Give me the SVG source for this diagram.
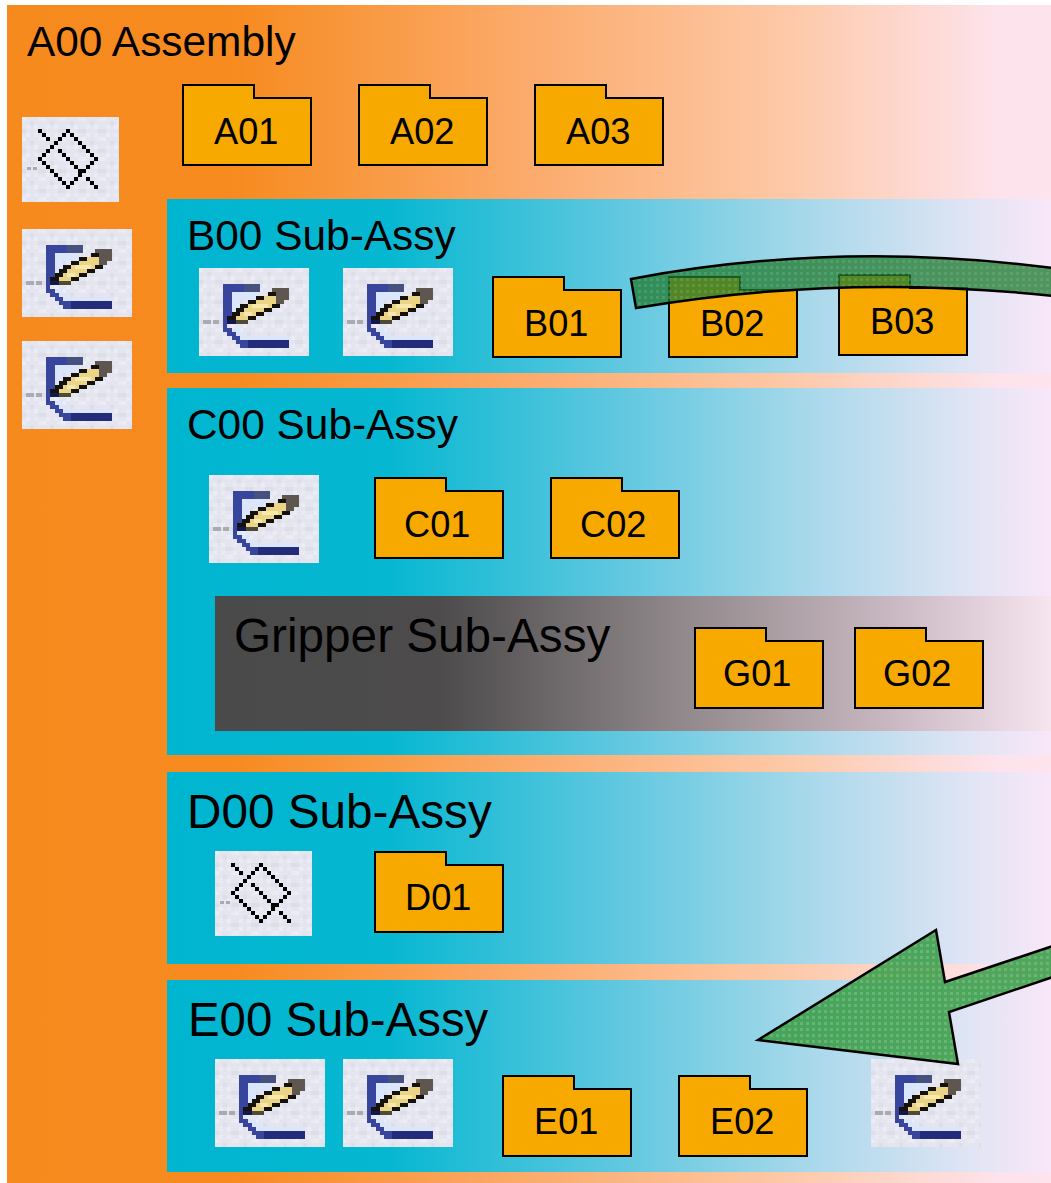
<svg xmlns="http://www.w3.org/2000/svg" width="1051" height="1183" viewBox="0 0 1051 1183">
<style>
text{font-family:"Liberation Sans",Arial,sans-serif;fill:#000}
.t42{font-size:42.4px}.t48{font-size:47.7px}.t47{font-size:47.4px}.f{font-size:36.2px}
.fo{fill:#f8a900;stroke:#000;stroke-width:2}
.arc{fill:url(#texArc);stroke:#000;stroke-width:2.5}
.arrow{fill:url(#tex);stroke:#000;stroke-width:2.5}
.px{shape-rendering:crispEdges}
</style>
<defs>
<linearGradient id="gO" gradientUnits="userSpaceOnUse" x1="7" y1="0" x2="1051" y2="0">
<stop offset="0" stop-color="#f78a1d"/><stop offset=".22" stop-color="#f78b20"/><stop offset=".5" stop-color="#fbab6c"/><stop offset=".75" stop-color="#fdc9a8"/><stop offset=".95" stop-color="#fde3ec"/><stop offset="1" stop-color="#fde3ec"/>
</linearGradient>
<linearGradient id="gB" gradientUnits="userSpaceOnUse" x1="167" y1="0" x2="1051" y2="0">
<stop offset="0" stop-color="#00b5d0"/><stop offset=".25" stop-color="#06b7d1"/><stop offset=".5" stop-color="#5cc7df"/><stop offset=".72" stop-color="#a6d8ea"/><stop offset=".9" stop-color="#dee4f4"/><stop offset="1" stop-color="#f8e7f8"/>
</linearGradient>
<linearGradient id="gG" gradientUnits="userSpaceOnUse" x1="215" y1="0" x2="1051" y2="0">
<stop offset="0" stop-color="#4a4a4a"/><stop offset=".27" stop-color="#4d4b4c"/><stop offset=".55" stop-color="#8f8789"/><stop offset=".8" stop-color="#c7b6bf"/><stop offset="1" stop-color="#f6e4ef"/>
</linearGradient>
<pattern id="tex" patternUnits="userSpaceOnUse" width="6" height="6">
<rect width="6" height="6" fill="#3a9d48" fill-opacity=".88"/>
<rect x="2" y="2" width="3" height="3" fill="#7cbf86" fill-opacity=".6"/>
</pattern>
<pattern id="texArc" patternUnits="userSpaceOnUse" width="6" height="6">
<rect width="6" height="6" fill="#1e7a30" fill-opacity=".76"/>
<rect x="2" y="2" width="3" height="3" fill="#7cbf86" fill-opacity=".28"/>
</pattern>
<pattern id="noise" patternUnits="userSpaceOnUse" width="20" height="20">
<rect width="20" height="20" fill="#e4e5ef"/>
<path class="px" d="M0 0h4v4h-4zM12 8h4v4h-4zM4 16h4v4h-4z" fill="#ececf8"/>
<path class="px" d="M8 4h4v4h-4zM16 12h4v4h-4zM0 12h4v4h-4z" fill="#dddfe8"/>
<path class="px" d="M4 8h4v4h-4zM16 0h4v4h-4zM12 16h4v4h-4z" fill="#eaeaf2"/>
</pattern>
<path id="folder" class="fo" d="M0 0H71V13H128V80H0Z"/>
<g id="iconPencil">
<rect width="110" height="88" fill="url(#noise)"/>
<g class="px" transform="scale(4.07 4)">
<path d="M8 6H14V8H10V11H8ZM8 15H10V16H11V17H22V18H10V17H9V16H8Z" fill="#dbe6fc"/>
<path d="M1 13h2v1h-2zM3.500 13h1.500v1h-1.500z" fill="#a9abb3"/>
<path d="M6 4H11V6H8V13H9V14H7V15H8V16H9V17H10V18H12V20H10V19H9V18H8V17H7V16H6Z" fill="#38459c"/>
<path d="M11 4H15V6H11Z" fill="#46517f"/>
<path d="M12 18H22V20H12Z" fill="#222c7a"/>
<path d="M18 5H22V8H21V9H19V6H18Z" fill="#5f574f"/>
<path d="M16 7H19V8H16ZM14 8H19V9H14ZM12 9H18V10H12ZM11 10H16V11H11ZM10 11H14V12H10ZM9 12H12V13H9Z" fill="#ead587"/>
<path d="M13 9H17V10H13ZM11 11H13V12H11Z" fill="#f5e9ac"/>
<path d="M17 6H19V7H17ZM14 7H16V8H14ZM12 8H14V9H12ZM10 9H12V10H10ZM9 10H11V11H9ZM8 11H10V12H8ZM7 12H9V13H7ZM18 9H20V10H18ZM16 10H18V11H16ZM14 11H16V12H14ZM12 12H14V13H12Z" fill="#17110c"/>
<path d="M7 13H9V14H7Z" fill="#12174f"/>
<path d="M9 13H12V14H9Z" fill="#4b4c38"/>
</g>
</g>
<g id="iconDiamond">
<rect width="97" height="85" fill="url(#noise)"/>
<path class="px" transform="scale(4)" fill="#000" d="M11 3h1v1h-1zM12 4h1v1h-1zM13 5h1v1h-1zM14 6h1v1h-1zM15 7h1v1h-1zM16 8h1v1h-1zM17 9h1v1h-1zM18 10h1v1h-1zM17 11h1v1h-1zM16 12h1v1h-1zM15 13h1v1h-1zM14 14h1v1h-1zM13 15h1v1h-1zM12 16h1v1h-1zM11 17h1v1h-1zM10 16h1v1h-1zM9 15h1v1h-1zM8 14h1v1h-1zM7 13h1v1h-1zM6 12h1v1h-1zM5 11h1v1h-1zM4 10h1v1h-1zM5 9h1v1h-1zM6 8h1v1h-1zM7 7h1v1h-1zM8 6h1v1h-1zM9 5h1v1h-1zM10 4h1v1h-1zM4 3h1v1h-1zM5 4h1v1h-1zM6 5h1v1h-1zM9 8h1v1h-1zM10 9h1v1h-1zM11 10h1v1h-1zM12 11h1v1h-1zM13 12h1v1h-1zM14 13h1v1h-1zM16 15h1v1h-1zM17 16h1v1h-1zM18 17h1v1h-1z"/>
<path class="px" d="M5 50h4v3h-4zM11 50h4v3h-4z" fill="#a9abb3"/>
</g>
</defs>
<rect width="1051" height="1183" fill="#fff"/>

<g id="A00">
<rect x="7" y="5" width="1044" height="1178" fill="url(#gO)"/>
<text class="t42" x="27" y="56">A00 Assembly</text>
<use href="#iconDiamond" x="22" y="117"/>
<use href="#iconPencil" x="22" y="229"/>
<use href="#iconPencil" x="22" y="341"/>
<g id="A01"><use href="#folder" x="183" y="85"/><text class="f" x="214" y="144">A01</text></g>
<g id="A02"><use href="#folder" x="359" y="85"/><text class="f" x="390" y="144">A02</text></g>
<g id="A03"><use href="#folder" x="535" y="85"/><text class="f" x="566" y="144">A03</text></g>
</g>

<g id="B00">
<rect x="167" y="199" width="884" height="174" fill="url(#gB)"/>
<text class="t42" x="187" y="250">B00 Sub-Assy</text>
<use href="#iconPencil" x="199" y="268"/>
<use href="#iconPencil" x="343" y="268"/>
<g id="B01"><use href="#folder" x="493" y="277"/><text class="f" x="524" y="336">B01</text></g>
<g id="B02"><use href="#folder" x="669" y="277"/><text class="f" x="700" y="336">B02</text></g>
<g id="B03"><use href="#folder" x="839" y="275"/><text class="f" x="870" y="334">B03</text></g>
</g>

<g id="C00">
<rect x="167" y="388" width="884" height="367" fill="url(#gB)"/>
<text class="t42" x="187" y="439">C00 Sub-Assy</text>
<use href="#iconPencil" x="209" y="475"/>
<g id="C01"><use href="#folder" x="375" y="478"/><text class="f" x="404" y="537">C01</text></g>
<g id="C02"><use href="#folder" x="551" y="478"/><text class="f" x="580" y="537">C02</text></g>
</g>

<g id="Gripper">
<rect x="215" y="596" width="836" height="135" fill="url(#gG)"/>
<text class="t48" x="234" y="652">Gripper Sub-Assy</text>
<g id="G01"><use href="#folder" x="695" y="628"/><text class="f" x="723" y="686">G01</text></g>
<g id="G02"><use href="#folder" x="855" y="628"/><text class="f" x="883" y="686">G02</text></g>
</g>

<g id="D00">
<rect x="167" y="772" width="884" height="192" fill="url(#gB)"/>
<text class="t48" x="187" y="828">D00 Sub-Assy</text>
<use href="#iconDiamond" x="215" y="851"/>
<g id="D01"><use href="#folder" x="375" y="852"/><text class="f" x="405" y="910">D01</text></g>
</g>

<g id="E00">
<rect x="167" y="980" width="884" height="192" fill="url(#gB)"/>
<text class="t47" x="188" y="1036">E00 Sub-Assy</text>
<use href="#iconPencil" x="215" y="1059"/>
<use href="#iconPencil" x="343" y="1059"/>
<use href="#iconPencil" x="871" y="1059"/>
<g id="E01"><use href="#folder" x="503" y="1076"/><text class="f" x="534" y="1134">E01</text></g>
<g id="E02"><use href="#folder" x="679" y="1076"/><text class="f" x="710" y="1134">E02</text></g>
</g>

<g id="connectors">
<path class="arc" d="M631 279Q836 240 1053 268V296Q843 273 636 308Z"/>
<path class="arrow" d="M758 1040L936 930L945 982L1053 946V977L949 1012L958 1064Z"/>
</g>
</svg>
